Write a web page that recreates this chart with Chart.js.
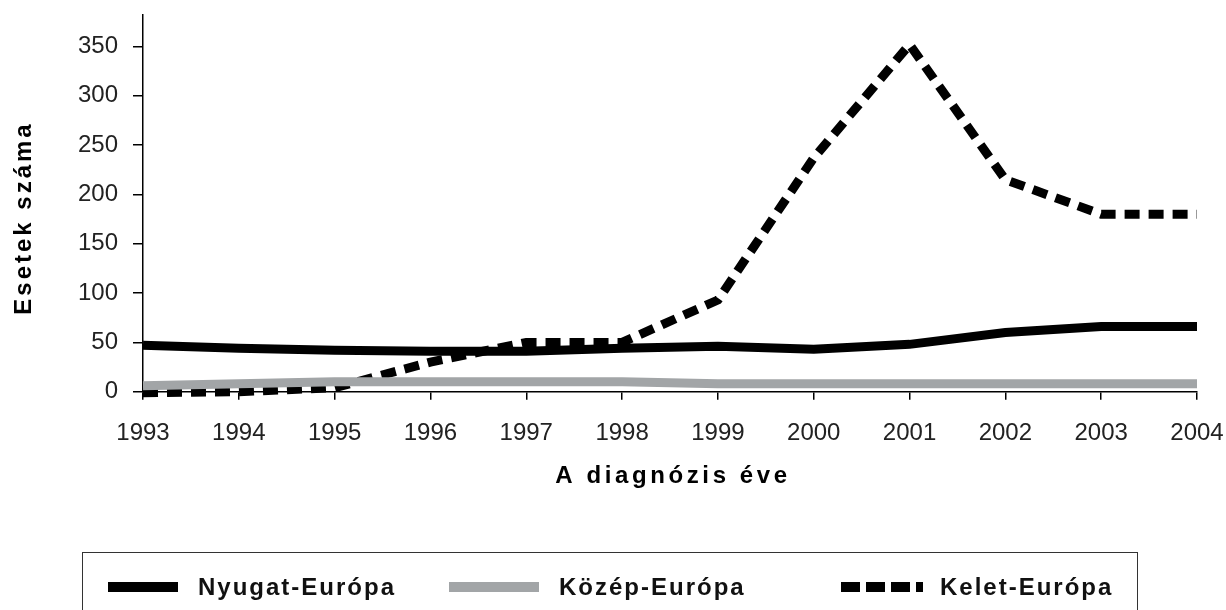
<!DOCTYPE html>
<html lang="hu">
<head>
  <meta charset="UTF-8" />
  <title>Esetek száma</title>
  <script src="https://cdn.jsdelivr.net/npm/chart.js"></script>
  <style>
    html, body { margin: 0; padding: 0; background: #fff; overflow: hidden; }
    .wrap { position: relative; width: 1226px; height: 610px; }
    #chart { position: absolute; left: 0; top: 0; }
    .legend {
      position: absolute;
      left: 82px; top: 552px;
      width: 1054px; height: 90px;
      border: 1.5px solid #333;
      font: bold 24px "Liberation Sans", Arial, sans-serif;
      letter-spacing: 2px;
      color: #111;
    }
    .legend .sample { position: absolute; top: 29px; height: 10px; }
    .legend .label { position: absolute; top: 22px; line-height: 24px; white-space: nowrap; }
  </style>
</head>
<body>
  <div class="wrap">
    <canvas id="chart" width="1226" height="610"></canvas>
    <div class="legend">
      <div class="sample" style="left:25px;width:70px;background:#000"></div>
      <div class="label" style="left:115px">Nyugat-Európa</div>
      <div class="sample" style="left:366px;width:90px;background:#a2a5a7"></div>
      <div class="label" style="left:476px">Közép-Európa</div>
      <div class="sample" style="left:758px;width:82px;background:repeating-linear-gradient(to right,#000 0 19px,transparent 19px 25px)"></div>
      <div class="label" style="left:857px">Kelet-Európa</div>
    </div>
  </div>

  <script>
    const years = ['1993', '1994', '1995', '1996', '1997', '1998', '1999', '2000', '2001', '2002', '2003', '2004'];
    const nyugat = [47, 44, 42, 41, 41, 44, 46, 43, 48, 60, 66, 66];
    const kozep = [6, 8, 10, 10, 10, 10, 8, 8, 8, 8, 8, 8];
    const kelet = [-1, 0, 4, 30, 50, 50, 93, 237, 352, 215, 180, 180];
    const yTicks = [0, 50, 100, 150, 200, 250, 300, 350];

    const xTitle = 'A diagnózis éve';
    const yTitle = 'Esetek száma';
    const font = '"Liberation Sans", Arial, sans-serif';

    // axis titles are letter-spaced, so draw them by hand
    const axisTitles = {
      id: 'axisTitles',
      afterDraw(chart) {
        const { ctx, chartArea } = chart;
        ctx.save();
        ctx.fillStyle = '#000';
        ctx.font = 'bold 24px ' + font;
        ctx.textAlign = 'center';
        ctx.textBaseline = 'alphabetic';
        ctx.letterSpacing = '3.6px';
        ctx.fillText(xTitle, (chartArea.left + chartArea.right) / 2 + 3, 483);
        ctx.letterSpacing = '3px';
        ctx.translate(31, 218);
        ctx.rotate(-Math.PI / 2);
        ctx.fillText(yTitle, 0, 0);
        ctx.restore();
      }
    };

    const line = (label, data, color, order, dash) => ({
      label, data, order,
      borderColor: color,
      backgroundColor: color,
      borderWidth: 9,
      borderDash: dash || [],
      borderCapStyle: 'butt',
      borderJoinStyle: 'miter',
      pointRadius: 0,
      tension: 0,
      clip: false
    });

    new Chart(document.getElementById('chart'), {
      type: 'line',
      data: {
        labels: years,
        datasets: [
          line('Nyugat-Európa', nyugat, '#000', 2),
          line('Közép-Európa', kozep, '#a2a5a7', 0),
          line('Kelet-Európa', kelet, '#000', 1, [15, 9])
        ]
      },
      options: {
        responsive: false,
        animation: false,
        layout: { padding: { top: 15, right: 29, left: 0, bottom: 0 } },
        plugins: { legend: { display: false }, tooltip: { enabled: false } },
        scales: {
          x: {
            offset: false,
            afterFit: s => { s.height = 218.3; s.paddingLeft = 0; s.paddingRight = 0; },
            border: { color: '#000', width: 1.5 },
            grid: { drawOnChartArea: false, tickLength: 8, color: '#000', lineWidth: 1.5 },
            ticks: { color: '#222', font: { family: font, size: 24 }, padding: 19, maxRotation: 0, autoSkip: false }
          },
          y: {
            min: 0,
            max: 382,
            afterFit: s => { s.width = 143; s.paddingTop = 0; s.paddingBottom = 0; },
            afterBuildTicks: s => { s.ticks = yTicks.map(v => ({ value: v })); },
            border: { color: '#000', width: 1.5 },
            grid: { drawOnChartArea: false, tickLength: 10, color: '#000', lineWidth: 1.5 },
            ticks: { color: '#222', font: { family: font, size: 24 }, padding: 15 }
          }
        }
      },
      plugins: [axisTitles]
    });
  </script>
</body>
</html>
